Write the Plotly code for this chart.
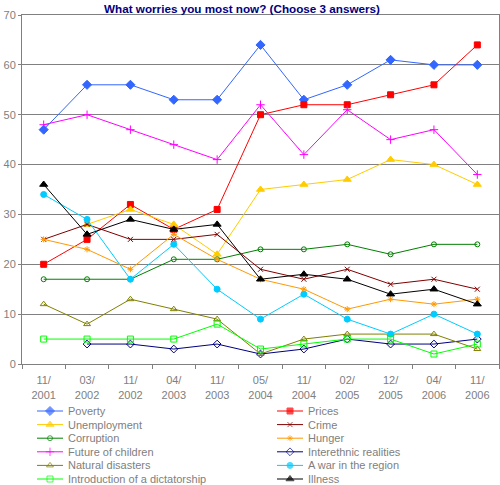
import plotly.graph_objects as go

# Survey periods (x categories)
periods = ["11/2001", "03/2002", "11/2002", "04/2003", "11/2003", "05/2004",
           "11/2004", "02/2005", "12/2005", "04/2006", "11/2006"]
tick_text = [p.replace("/", "/<br>") for p in periods]

# Share of answers (%)
poverty = [47, 56, 56, 53, 53, 64, 53, 56, 61, 60, 60]
prices = [20, 25, 32, 27, 31, 50, 52, 52, 54, 56, 64]
unemployment = [None, 28, 31, 28, 22, 35, 36, 37, 41, 40, 36]
crime = [25, 28, 25, 25, 26, 19, 17, 19, 16, 17, 15]
corruption = [17, 17, 17, 21, 21, 23, 23, 24, 22, 24, 24]
hunger = [25, 23, 19, 26, 21, 17, 15, 11, 13, 12, 13]
future_children = [48, 50, 47, 44, 41, 52, 42, 51, 45, 47, 38]
interethnic = [None, 4, 4, 3, 4, 2, 3, 5, 4, 4, 5]
natural_disasters = [12, 8, 13, 11, 9, 2, 5, 6, 6, 6, 3]
war_region = [34, 29, 17, 24, 15, 9, 14, 9, 6, 10, 6]
dictatorship = [5, 5, 5, 5, 8, 3, 4, 5, 5, 2, 4]
illness = [36, 26, 29, 27, 28, 17, 18, 17, 14, 15, 12]

# name, values, colour, marker symbol, marker size
series = [
    ("Poverty", poverty, "#3366FF", "diamond", 7),
    ("Prices", prices, "#FF0000", "square", 6),
    ("Unemployment", unemployment, "#FFCC00", "triangle-up", 7),
    ("Crime", crime, "#800000", "x-thin-open", 5),
    ("Corruption", corruption, "#008000", "circle-open", 5),
    ("Hunger", hunger, "#FF9900", "asterisk-open", 5),
    ("Future of children", future_children, "#FF00FF", "cross-thin-open", 6),
    ("Interethnic realities", interethnic, "#000080", "diamond-open", 6),
    ("Natural disasters", natural_disasters, "#808000", "triangle-up-open", 6),
    ("A war in the region", war_region, "#00CCFF", "circle", 6),
    ("Introduction of a dictatorship", dictatorship, "#00FF00", "square-open", 6),
    ("Illness", illness, "#000000", "triangle-up", 7),
]

W, H = 500, 485
top, bottom_plot = 15, 364
split = (H - bottom_plot) / (H - top)
grey = "#808080"
font = "Liberation Sans, Arial, sans-serif"

fig = go.Figure()

for name, vals, color, sym, size in series:
    fig.add_trace(go.Scatter(
        x=periods, y=vals, name=name, mode="lines+markers",
        line=dict(color=color, width=1),
        marker=dict(symbol=sym, size=size, color=color, line=dict(color=color, width=1)),
        showlegend=False))

# hand-made legend below the chart (two columns, Excel style)
annotations = []
for i, (name, vals, color, sym, size) in enumerate(series):
    row, col = i // 2, i % 2
    ly = 411 + row * 13.6
    lx = 37 + col * 240
    fig.add_trace(go.Scatter(
        x=[lx, lx + 13, lx + 26], y=[ly, ly, ly], mode="lines+markers",
        line=dict(color=color, width=1),
        marker=dict(symbol=sym, size=[0, size, 0], color=color, line=dict(color=color, width=1)),
        xaxis="x2", yaxis="y2", showlegend=False, hoverinfo="skip"))
    annotations.append(dict(x=lx + 29, y=ly, xref="x2", yref="y2", text=name,
                            showarrow=False, xanchor="left", yanchor="middle",
                            font=dict(family=font, size=11, color=grey)))

fig.update_layout(
    width=W, height=H,
    margin=dict(l=22, r=1, t=top, b=0, autoexpand=False),
    paper_bgcolor="white", plot_bgcolor="white",
    title=dict(text="<b>What worries you most now? (Choose 3 answers)</b>",
               x=0.484, xanchor="center", y=1 - 9 / H, yanchor="middle",
               font=dict(family=font, size=11.7, color="#000080")),
    annotations=annotations,
    xaxis=dict(type="category", tickvals=periods, ticktext=tick_text,
               range=[-0.5, len(periods) - 0.5], tickson="boundaries",
               ticks="outside", ticklen=4, tickcolor=grey, ticklabelstandoff=6,
               showline=True, linecolor=grey, mirror=True, showgrid=False,
               tickfont=dict(family=font, size=11, color=grey),
               anchor="y", domain=[0, 1]),
    yaxis=dict(range=[0, 70], dtick=10, showgrid=True, gridcolor=grey, gridwidth=1,
               showline=True, linecolor=grey, mirror=True, zeroline=False,
               ticks="outside", ticklen=3, tickcolor=grey,
               tickfont=dict(family=font, size=11, color=grey),
               domain=[split, 1]),
    xaxis2=dict(range=[22, 499], visible=False, anchor="y2", domain=[0, 1]),
    yaxis2=dict(range=[H, bottom_plot], visible=False, anchor="x2", domain=[0, split]),
)

# the page's default body margin would push the chart 8px off
fig.write_html("out.html", config={"displayModeBar": False},
               post_script="document.body.style.margin='0';")
